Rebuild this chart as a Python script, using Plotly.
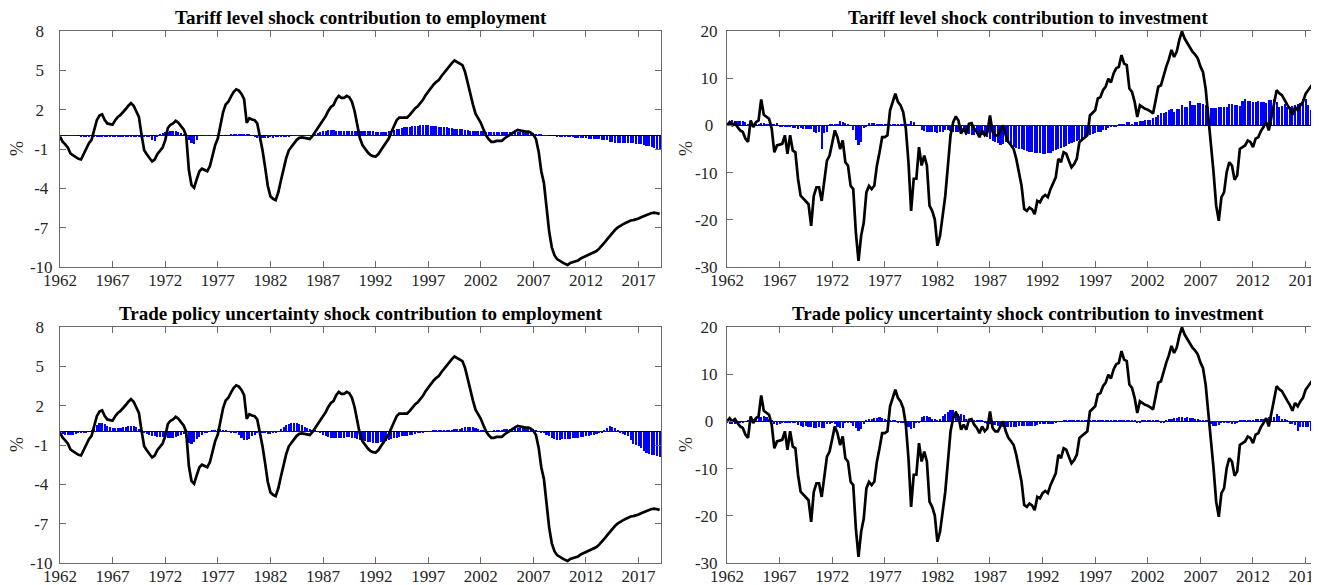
import plotly.graph_objects as go

START_YEAR = 1962

# Employment (%), quarterly from 1962Q1
employment = [
    -0.05, -0.45, -0.65, -0.9,
    -1.35, -1.5, -1.65, -1.75,
    -1.8, -1.4, -0.95, -0.55,
    -0.3, 0.45, 1.2, 1.55,
    1.65, 1.2, 0.95, 0.9,
    0.85, 1.2, 1.45, 1.6,
    1.8, 2.05, 2.3, 2.5,
    2.3, 1.85, 1.45, 0.1,
    -1.1, -1.4, -1.7, -1.95,
    -1.8, -1.4, -1.15, -0.9,
    -0.35, 0.6, 0.85, 0.95,
    1.15, 1.0, 0.75, 0.5,
    0.0, -2.6, -3.75, -3.95,
    -3.3, -2.7, -2.5, -2.6,
    -2.7, -2.3, -1.5, -0.7,
    -0.2, 0.8, 1.8, 2.4,
    2.6, 3.0, 3.35, 3.55,
    3.45, 3.2, 2.8, 1.0,
    1.35, 1.25, 1.2, 0.95,
    -0.05, -1.1, -2.4, -3.8,
    -4.6, -4.8, -4.9, -4.3,
    -3.4, -2.5, -1.7, -1.1,
    -0.8, -0.5, -0.3, -0.15,
    -0.12, -0.15, -0.2, -0.23,
    0.0, 0.3, 0.6, 0.95,
    1.15, 1.5, 1.9, 2.2,
    2.35, 2.8, 3.05, 2.9,
    2.9, 3.05, 2.95, 2.6,
    1.9, 0.8, -0.15, -0.7,
    -1.0, -1.25, -1.45, -1.55,
    -1.58, -1.4, -1.1, -0.8,
    -0.6, -0.2, 0.3, 0.8,
    1.2, 1.4, 1.4, 1.35,
    1.4, 1.6, 1.85, 2.1,
    2.25, 2.5, 2.75, 3.1,
    3.4, 3.7, 3.9, 4.1,
    4.25, 4.55, 4.8, 5.1,
    5.3, 5.55, 5.75, 5.65,
    5.55, 5.4, 4.9, 4.0,
    3.2, 2.4, 1.7, 1.35,
    1.0, 0.5, 0.05, -0.25,
    -0.45, -0.45, -0.38, -0.38,
    -0.38, -0.2, -0.05, 0.05,
    0.2, 0.35, 0.45, 0.4,
    0.33, 0.33, 0.33, 0.25,
    0.08, -0.25, -1.2, -2.7,
    -3.6, -5.5, -7.3, -8.5,
    -9.1, -9.4, -9.55, -9.65,
    -9.75, -9.85, -9.7, -9.62,
    -9.6, -9.5, -9.35, -9.25,
    -9.2, -9.1, -8.95, -8.85,
    -8.78, -8.6, -8.4, -8.15,
    -7.9, -7.65, -7.4, -7.18,
    -7.0, -6.85, -6.75, -6.65,
    -6.55, -6.45, -6.42, -6.38,
    -6.3, -6.2, -6.1, -6.0,
    -5.95, -5.88, -5.85, -5.9,
    -5.95,
]

# Investment (%), quarterly from 1962Q1
investment = [
    0.0, 0.7, 0.0, 0.5,
    -0.35, -1.06, -1.4, -2.8,
    -3.5, 1.06, -0.35, 0.7,
    1.06, 5.5, 2.27, 1.77,
    1.4, -0.7, -5.7, -4.25,
    -4.0, -3.9, -2.1, -6.0,
    -2.1, -5.3, -5.7, -11.3,
    -14.9, -15.5, -16.0, -16.7,
    -21.3, -14.9, -13.1, -13.1,
    -16.0, -11.3, -7.45, -6.4,
    -4.0, -1.06, -2.5, -5.0,
    -3.2, -7.8, -8.5, -12.8,
    -13.5, -22.7, -28.7, -23.4,
    -20.6, -14.2, -12.8, -13.5,
    -12.8, -8.5, -5.7, -2.5,
    -2.5, -2.1, 3.2, 5.0,
    6.7, 5.0, 4.25, 2.8,
    -0.7, -7.8, -18.1, -11.3,
    -11.3, -4.6, -8.5, -6.4,
    -8.5, -17.0, -18.1, -19.9,
    -25.5, -23.4, -19.1, -14.9,
    -8.5, -2.1, 0.7, 1.9,
    1.06, -1.77, -0.7, -1.77,
    0.35, 0.5, -0.7, -1.4,
    -2.5, -1.06, -2.1, -1.5,
    2.1, -1.4, -2.1, -2.1,
    -1.0, 0.0, -2.1, -3.5,
    -4.2, -5.0, -7.1, -10.0,
    -12.8, -17.7, -18.1, -17.4,
    -17.8, -18.8, -16.0, -16.3,
    -15.2, -14.75, -15.2, -13.5,
    -12.1, -11.0, -7.1, -7.8,
    -5.7, -6.0, -7.5, -8.9,
    -8.2, -7.1, -3.5, -3.0,
    -2.5, -2.1, 2.1, 2.6,
    3.2, 5.7, 6.0, 7.5,
    8.2, 9.9, 9.1, 11.0,
    12.1, 12.4, 14.9, 13.1,
    12.8, 7.8, 7.1, 5.0,
    1.8, 4.25, 3.8, 3.5,
    3.3, 3.0, 2.5, 5.0,
    8.2, 8.5, 10.6, 12.4,
    14.0, 16.0, 14.5, 15.6,
    18.1, 19.9, 18.4, 17.4,
    16.7, 15.6, 15.0, 14.2,
    12.5, 11.3, 7.8, 2.1,
    -3.5, -9.9, -17.0, -20.2,
    -15.2, -14.2, -9.9, -7.8,
    -8.5, -11.5, -10.6, -5.0,
    -4.6, -4.25, -3.2, -3.5,
    -4.6, -2.8, -2.5, -1.2,
    -0.35, 0.7, -1.06, 2.1,
    4.6, 7.45, 6.8, 6.4,
    5.3, 4.4, 3.5, 2.27,
    3.9, 3.2, 4.2, 5.0,
    6.7, 7.45, 8.2, 9.0,
    9.6, 10.6, 10.9, 11.1,
    11.3,
]

# Tariff level shock contribution to employment
tariff_emp = [
    0.03, 0.03, 0.04, 0.03,
    0.03, 0.02, 0.02, 0.0,
    -0.04, -0.05, -0.06, -0.05,
    -0.06, -0.07, -0.06, -0.05,
    -0.07, -0.06, -0.05, -0.05,
    -0.06, -0.05, -0.07, -0.06,
    -0.05, -0.06, -0.04, -0.05,
    -0.04, -0.05, -0.03, -0.02,
    -0.02, -0.03, -0.1, -0.35,
    -0.4, -0.1, 0.12, 0.2,
    0.28, 0.33, 0.38, 0.4,
    0.36, 0.32, 0.25, 0.12,
    -0.15, -0.3, -0.55, -0.6,
    -0.3, 0.04, 0.05, 0.05,
    0.06, 0.05, 0.03, 0.01,
    0.0, 0.0, 0.01, 0.0,
    0.02, 0.08, 0.1, 0.12,
    0.13, 0.15, 0.15, 0.12,
    0.1, 0.05, -0.1, -0.15,
    -0.17, -0.18, -0.16, -0.15,
    -0.12, -0.14, -0.1, -0.06,
    -0.05, -0.04, -0.03, -0.02,
    0.0, 0.01, 0.02, 0.03,
    0.04, 0.05, 0.04, 0.05,
    0.06, 0.15, 0.25, 0.3,
    0.35, 0.4, 0.42, 0.43,
    0.42, 0.4, 0.41, 0.4,
    0.4, 0.39, 0.4, 0.38,
    0.4, 0.39, 0.37, 0.38,
    0.36, 0.37, 0.35, 0.35,
    0.33, 0.3, 0.32, 0.3,
    0.33, 0.35, 0.38, 0.42,
    0.5, 0.55, 0.6, 0.65,
    0.68, 0.7, 0.72, 0.75,
    0.78, 0.8, 0.85, 0.82,
    0.8, 0.78, 0.76, 0.72,
    0.7, 0.68, 0.65, 0.66,
    0.6, 0.58, 0.56, 0.55,
    0.52, 0.5, 0.45, 0.42,
    0.4, 0.38, 0.36, 0.37,
    0.36, 0.35, 0.33, 0.32,
    0.3, 0.31, 0.3, 0.32,
    0.3, 0.3, 0.31, 0.3,
    0.3, 0.28, 0.29, 0.27,
    0.27, 0.25, 0.24, 0.22,
    0.2, 0.18, 0.15, 0.1,
    0.05, 0.02, 0.0, 0.0,
    0.0, -0.02, -0.05, -0.08,
    -0.1, -0.1, -0.12, -0.12,
    -0.13, -0.15, -0.15, -0.17,
    -0.18, -0.2, -0.22, -0.23,
    -0.25, -0.27, -0.3, -0.32,
    -0.35, -0.45, -0.5, -0.52,
    -0.55, -0.55, -0.56, -0.55,
    -0.55, -0.56, -0.58, -0.6,
    -0.6, -0.62, -0.7, -0.75,
    -0.8, -0.85, -0.9, -0.98,
    -1.05,
]

# Trade policy uncertainty shock contribution to employment
tpu_emp = [
    -0.05, -0.15, -0.22, -0.25,
    -0.27, -0.25, -0.18, -0.1,
    -0.08, -0.06, -0.05, 0.0,
    0.15, 0.35, 0.55, 0.68,
    0.7, 0.6, 0.45, 0.38,
    0.33, 0.3, 0.3, 0.32,
    0.35, 0.4, 0.42, 0.45,
    0.42, 0.35, 0.25, 0.1,
    -0.05, -0.15, -0.2, -0.3,
    -0.35, -0.38, -0.4, -0.38,
    -0.4, -0.45, -0.5, -0.48,
    -0.42, -0.3, -0.2, -0.15,
    -0.5, -0.85, -0.9, -0.75,
    -0.55, -0.4, -0.25, -0.12,
    -0.05, 0.05, 0.12, 0.18,
    0.22, 0.2, 0.18, 0.12,
    0.05, -0.05, -0.08, -0.12,
    -0.25, -0.45, -0.6, -0.65,
    -0.55, -0.35, -0.2, -0.1,
    -0.08, -0.1, -0.12, -0.15,
    -0.15, -0.12, -0.1, 0.05,
    0.2, 0.35, 0.5, 0.6,
    0.68, 0.7, 0.68, 0.6,
    0.5, 0.4, 0.3, 0.2,
    0.12, 0.08, 0.05, -0.05,
    -0.25, -0.35, -0.42, -0.48,
    -0.5, -0.45, -0.44, -0.45,
    -0.45, -0.42, -0.4, -0.45,
    -0.5, -0.55, -0.6, -0.65,
    -0.7, -0.75, -0.8, -0.85,
    -0.88, -0.85, -0.8, -0.75,
    -0.68, -0.6, -0.55, -0.5,
    -0.45, -0.4, -0.35, -0.3,
    -0.28, -0.25, -0.2, -0.15,
    -0.12, -0.08, -0.05, 0.0,
    0.02, 0.05, 0.08, 0.1,
    0.1, 0.12, 0.14, 0.15,
    0.15, 0.18, 0.2, 0.22,
    0.25, 0.3, 0.38, 0.4,
    0.4, 0.38, 0.3, 0.2,
    0.15, 0.12, 0.08, 0.05,
    0.05, 0.08, 0.1, 0.15,
    0.18, 0.2, 0.22, 0.25,
    0.28, 0.3, 0.32, 0.33,
    0.35, 0.34, 0.33, 0.3,
    0.25, 0.15, 0.05, -0.05,
    -0.1, -0.2, -0.35, -0.45,
    -0.55, -0.6, -0.6, -0.58,
    -0.55, -0.55, -0.52, -0.5,
    -0.48, -0.45, -0.4, -0.38,
    -0.35, -0.3, -0.25, -0.2,
    -0.15, -0.1, -0.05, 0.1,
    0.3, 0.42, 0.4, 0.3,
    0.15, -0.05, -0.15, -0.25,
    -0.35, -0.6, -0.9, -1.0,
    -1.1, -1.2, -1.45, -1.6,
    -1.7, -1.75, -1.8, -1.85,
    -1.88,
]

# Tariff level shock contribution to investment
tariff_inv = [
    0.2, 1.0, 1.1, 1.0,
    1.0, 0.9, 1.0, 0.8,
    0.3, 0.3, 0.25, 0.3,
    0.3, 0.5, 0.5, 0.2,
    0.2, 0.15, 0.2, 0.6,
    -0.2, -0.25, -0.3, -0.2,
    -0.3, -0.5, -0.6, -0.7,
    -0.6, -0.7, -0.8, -0.7,
    -0.8, -1.5, -1.6, -1.5,
    -5.0, -1.7, -1.5, 0.3,
    0.3, 0.35, 0.3, 1.0,
    0.8, 0.5, 0.4, 0.0,
    -1.0, -3.0, -4.2, -3.5,
    -0.5, -0.4, 0.6, 0.6,
    0.5, 0.3, 0.2, 0.2,
    0.15, 0.2, 0.2, 0.3,
    0.3, 0.25, 0.35, 0.3,
    0.3, 0.3, 0.85, 0.8,
    0.0, 0.0, -0.9, -1.1,
    -1.3, -1.5, -1.4, -1.5,
    -1.6, -1.5, -1.3, -1.0,
    -1.0, -1.1, -1.5, -1.4,
    -1.5, -1.6, -1.5, -2.0,
    -1.9, -2.0, -2.1, -1.9,
    -2.0, -2.1, -2.2, -2.5,
    -2.8, -3.2, -3.5, -3.8,
    -4.25, -4.0, -3.5, -3.8,
    -4.2, -4.5, -4.8, -5.0,
    -5.0, -5.2, -5.5, -5.6,
    -5.7, -5.8, -5.8, -5.9,
    -6.0, -6.0, -5.9, -5.8,
    -5.5, -5.2, -5.0, -4.8,
    -4.6, -4.4, -4.0, -3.8,
    -3.6, -3.3, -3.0, -2.8,
    -2.5, -2.3, -2.0, -1.8,
    -1.7, -1.5, -1.3, -1.0,
    -1.0, -0.6, -0.4, -0.3,
    -0.2, 0.1, 0.3, 0.3,
    0.7, 0.7, 0.4, 0.7,
    0.8, 1.0, 1.0, 1.1,
    1.1, 1.2, 1.5, 1.8,
    2.2, 2.6, 2.7, 2.8,
    3.2, 3.5, 2.8, 3.5,
    3.5, 4.4, 4.0, 3.9,
    5.1, 4.3, 4.25, 4.75,
    4.7, 4.6, 4.3, 4.0,
    3.7, 3.7, 3.7, 3.8,
    4.0, 4.0, 4.0, 4.6,
    4.6, 4.4, 4.25, 4.1,
    5.1, 5.7, 5.2, 5.1,
    5.0, 5.0, 5.1, 5.0,
    5.0, 4.75, 5.3, 5.4,
    5.5, 5.0, 3.9, 4.2,
    4.6, 3.9, 3.9, 4.2,
    4.4, 4.6, 4.75, 5.5,
    5.5, 4.25, 3.2, 2.0,
    1.06, 1.0, 1.0, 1.0,
    1.0,
]

# Trade policy uncertainty shock contribution to investment
tpu_inv = [
    -0.3, -0.5, -0.5, -0.45,
    -0.2, -0.2, -0.15, -0.1,
    0.4, 0.5, 0.5, 0.5,
    0.9, 1.0, 1.1, 1.0,
    0.5, 0.4, -0.6, -0.7,
    -0.5, -0.2, -0.2, -0.15,
    -0.2, -0.25, -0.2, -0.8,
    -1.0, -1.1, -1.0, -1.1,
    -1.2, -1.3, -1.3, -1.2,
    -1.4, -1.3, -0.5, -0.5,
    -0.4, -0.6, -1.2, -1.3,
    -1.3, -0.3, -0.2, -0.3,
    -1.0, -1.5, -2.1, -1.6,
    -0.5, 0.3, 0.5, 0.6,
    0.7, 0.8, 0.85, 0.8,
    0.5, 0.25, 0.2, 0.2,
    0.15, -0.3, -0.4, -0.4,
    -0.5, -1.2, -1.6, -1.4,
    -0.3, -0.3, 0.9, 1.1,
    1.1, 0.9, 0.5, 0.5,
    0.4, 0.5, 1.2, 1.6,
    2.0, 2.4, 2.5, 2.3,
    1.6, 1.5, 1.4, 0.5,
    0.5, 0.3, 0.3, 0.25,
    0.3, 0.3, -0.4, -0.5,
    -0.6, -0.7, -0.8, -0.9,
    -1.0, -1.2, -1.2, -1.1,
    -1.2, -1.1, -1.2, -1.0,
    -1.0, -1.0, -0.9, -1.0,
    -1.0, -0.9, -0.8, -0.6,
    -0.6, -0.6, -0.5, -0.6,
    -0.5, -0.4, -0.05, 0.0,
    0.1, 0.2, 0.2, 0.2,
    0.15, 0.2, 0.2, 0.25,
    0.2, 0.2, 0.25, 0.2,
    0.2, 0.3, 0.35, 0.3,
    0.35, 0.3, 0.35, 0.35,
    0.3, 0.35, 0.4, 0.35,
    0.35, 0.4, 0.3, 0.35,
    -0.3, -0.3, 0.1, 0.2,
    0.3, 0.3, 0.35, 0.3,
    0.25, -0.2, -0.2, 0.3,
    0.5, 0.6, 0.7, 0.8,
    0.85, 0.85, 0.8, 0.85,
    0.8, 0.75, 0.6, 0.45,
    0.4, 0.35, 0.3, 0.2,
    -0.5, -1.0, -1.0, -0.8,
    -0.3, -0.3, -0.3, -0.2,
    -0.5, -0.5, -0.3, 0.1,
    0.2, 0.2, 0.25, 0.2,
    0.3, 0.5, 0.5, 0.55,
    0.5, 0.8, 0.9, 1.0,
    1.0, 1.5, 1.2, 0.5,
    0.5, 0.3, -0.5, -0.6,
    -0.8, -2.0, -1.2, -1.2,
    -1.2, -1.1, -2.0, -2.0,
    -2.0, -2.1, -1.8, -1.8,
    -1.8,
]

titles = [
    "Tariff level shock contribution to employment",
    "Tariff level shock contribution to investment",
    "Trade policy uncertainty shock contribution to employment",
    "Trade policy uncertainty shock contribution to investment",
]
year_ticks = [1962, 1967, 1972, 1977, 1982, 1987, 1992, 1997, 2002, 2007, 2012, 2017]
emp_ticks = [8, 5, 2, -1, -4, -7, -10]
inv_ticks = [20, 10, 0, -10, -20, -30]

for s in (employment, investment, tariff_emp, tpu_emp, tariff_inv, tpu_inv):
    assert len(s) == 229, len(s)


def qx(vals):
    return [START_YEAR + 0.25 * i for i in range(len(vals))]


NB = "\u00a0"
FONT = "Liberation Serif"
BLUE = "#0000ff"

fig = go.Figure()

panels = [
    ("", tariff_emp, employment),
    ("2", tariff_inv, investment),
    ("3", tpu_emp, employment),
    ("4", tpu_inv, investment),
]
for suf, bars, line in panels:
    fig.add_trace(go.Bar(x=qx(bars), y=bars, width=0.2, marker=dict(color=BLUE, line=dict(width=0)),
                         xaxis="x" + suf, yaxis="y" + suf, showlegend=False))
    fig.add_trace(go.Scatter(x=qx(line), y=line, mode="lines", line=dict(color="black", width=2.7),
                             xaxis="x" + suf, yaxis="y" + suf, showlegend=False))

L_DOM = [0.0, 601 / 1259]
R_DOM = [667 / 1259, 1.0]
T_DOM = [296 / 532, 1.0]
B_DOM = [0.0, 236 / 532]
LEFT_RANGE = [1962, 2019.13]
RIGHT_RANGE = [1962, 2018.275]

tick_font = dict(family=FONT, size=17, color="#262626")
AX_COLOR = "#6b6b6b"


def xax(dom, rng, anchor):
    return dict(domain=dom, range=rng, anchor=anchor, tickmode="array", tickvals=year_ticks,
                ticktext=[str(v) for v in year_ticks], ticks="inside", ticklen=6, tickcolor=AX_COLOR,
                showline=True, linecolor=AX_COLOR, linewidth=1, mirror="ticks", showgrid=False,
                zeroline=False, tickfont=tick_font, automargin=False, ticklabeloverflow="allow",
                ticklabelstandoff=-2)


def yax(dom, rng, ticks, labels, anchor, mirror, standoff):
    return dict(domain=dom, range=rng, anchor=anchor, tickmode="array", tickvals=ticks,
                ticktext=labels, ticks="inside", ticklen=6, tickcolor=AX_COLOR,
                showline=True, linecolor=AX_COLOR, linewidth=1, mirror=mirror, showgrid=False,
                zeroline=True, zerolinecolor="black", zerolinewidth=1.2, tickfont=tick_font,
                ticklabelstandoff=standoff, automargin=False)


emp_labels = ["8" + NB * 2, "5" + NB * 2, "2" + NB * 2, "-1" + NB, "-4" + NB, "-7" + NB, "-10"]
inv_labels = ["20", "10", "0" + NB, "-10", "-20", "-30"]

# The page body has an 8px margin, so the figure is 8px smaller and its margins 8px less.
fig.update_layout(
    width=1311, height=577,
    margin=dict(l=52, r=0, t=23, b=22, autoexpand=False),
    plot_bgcolor="white", paper_bgcolor="white",
    bargap=0, barmode="overlay",
    xaxis=xax(L_DOM, LEFT_RANGE, "y"),
    yaxis=yax(T_DOM, [-10, 8], emp_ticks, emp_labels, "x", "ticks", 3),
    xaxis2=xax(R_DOM, RIGHT_RANGE, "y2"),
    yaxis2=yax(T_DOM, [-30, 20], inv_ticks, inv_labels, "x2", False, 5),
    xaxis3=xax(L_DOM, LEFT_RANGE, "y3"),
    yaxis3=yax(B_DOM, [-10, 8], emp_ticks, emp_labels, "x3", "ticks", 3),
    xaxis4=xax(R_DOM, RIGHT_RANGE, "y4"),
    yaxis4=yax(B_DOM, [-30, 20], inv_ticks, inv_labels, "x4", False, 5),
)

ann = []
title_font = dict(family=FONT, size=19, color="black")
for suf, t in zip(["", "2", "3", "4"], titles):
    ax = "x" + suf
    ay = "y" + suf
    xs = 5 if suf in ("2", "4") else 0
    ann.append(dict(text="<b>" + t + "</b>", xref=ax + " domain", yref=ay + " domain", x=0.5, y=1.0,
                    xanchor="center", yanchor="bottom", yshift=1, xshift=xs, showarrow=False,
                    font=title_font))
    ann.append(dict(text="%", xref=ax + " domain", yref=ay + " domain", x=0.0, y=0.5,
                    xanchor="center", yanchor="middle", xshift=-43 if suf in ("", "3") else -41,
                    textangle=-90, showarrow=False, font=dict(family=FONT, size=18, color="#262626")))
fig.update_layout(annotations=ann)

fig.write_html("out.html")
